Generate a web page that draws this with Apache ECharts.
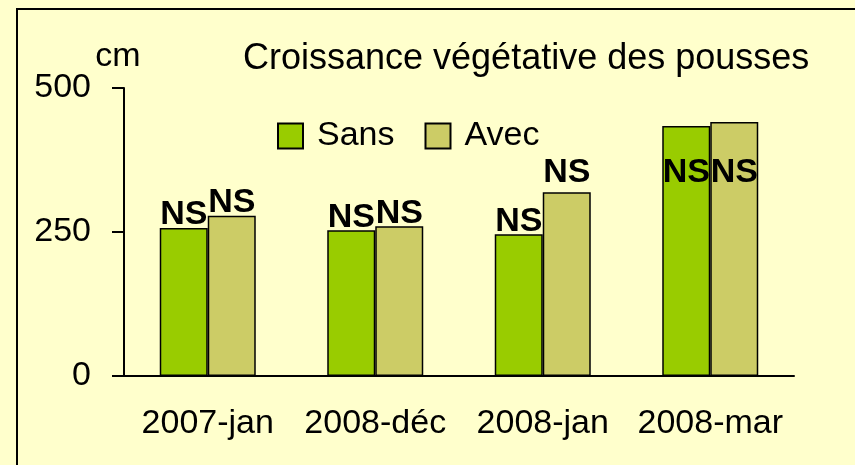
<!DOCTYPE html>
<html>
<head>
<meta charset="utf-8">
<script src="https://cdn.jsdelivr.net/npm/echarts@6/dist/echarts.min.js"></script>
<style>
  html, body { margin: 0; padding: 0; background: #FFFFCC; }
  #main { width: 855px; height: 465px; }
</style>
</head>
<body>
<div id="main"></div>
<script>
var categories = ['2007-jan', '2008-déc', '2008-jan', '2008-mar'];
var sansValues = [257, 253, 246, 434];
var avecValues = [278, 260, 319, 441];
var sansTags = ['NS', 'NS', 'NS', 'NS'];
var avecTags = ['NS', 'NS', 'NS', 'NS'];
var yTicks = [0, 250, 500];

var font = '"Liberation Sans", Arial, sans-serif';

var dom = document.getElementById('main');
var myChart = echarts.init(dom);

// la dernière catégorie a ses étiquettes dans la barre
function buildData(values, tags, inside) {
    return values.map(function (v, i) {
        var item = {value: v, label: {formatter: tags[i]}};
        if (i === values.length - 1) {
            item.label.position = 'insideTop';
            item.label.distance = inside;
        }
        return item;
    });
}

var sansData = buildData(sansValues, sansTags, 30);
var avecData = buildData(avecValues, avecTags, 34);
avecData[2].label.distance = 3;

var nsLabel = {
    show: true,
    position: 'top',
    distance: -4,
    color: '#000',
    fontFamily: font,
    fontWeight: 'bold',
    fontSize: 34,
    lineHeight: 34
};

var option = {
    backgroundColor: '#FFFFCC',
    animation: false,
    title: {
        text: 'Croissance végétative des pousses',
        left: 243,
        top: 41,
        padding: 0,
        textStyle: {
            fontFamily: font,
            fontWeight: 'normal',
            fontSize: 36,
            color: '#000'
        }
    },
    legend: {
        left: 277,
        top: 119,
        padding: 0,
        icon: 'rect',
        itemWidth: 25,
        itemHeight: 25,
        itemGap: 30,
        textStyle: {
            fontFamily: font,
            fontSize: 34,
            color: '#000',
            padding: [0, 0, 0, 9]
        },
        data: ['Sans', 'Avec']
    },
    graphic: [{
        type: 'rect',
        shape: {x: 17, y: 9, width: 900, height: 500},
        style: {fill: 'none', stroke: '#000', lineWidth: 2},
        silent: true
    }],
    grid: {left: 124, right: 61, top: 88, bottom: 89},
    xAxis: {
        type: 'category',
        data: categories,
        axisLine: {lineStyle: {color: '#000', width: 2}},
        axisTick: {length: 12, lineStyle: {color: '#000', width: 2}},
        axisLabel: {
            interval: 0,
            margin: 31,
            color: '#000',
            fontFamily: font,
            fontSize: 34
        }
    },
    yAxis: {
        type: 'value',
        min: yTicks[0],
        max: yTicks[yTicks.length - 1],
        interval: yTicks[1] - yTicks[0],
        name: 'cm',
        nameLocation: 'end',
        nameGap: 14,
        nameMoveOverlap: false,
        nameTextStyle: {
            fontFamily: font,
            fontSize: 34,
            color: '#000',
            align: 'center',
            padding: [0, 12, 0, 0]
        },
        splitLine: {show: false},
        axisLine: {show: true, lineStyle: {color: '#000', width: 2}},
        axisTick: {show: true, length: 12, lineStyle: {color: '#000', width: 2}},
        axisLabel: {
            margin: 33,
            color: '#000',
            fontFamily: font,
            fontSize: 34
        }
    },
    series: [
        {
            name: 'Sans',
            type: 'bar',
            barWidth: 48,
            barGap: '0%',
            itemStyle: {color: '#99CC00', borderColor: '#000', borderWidth: 1.5},
            label: nsLabel,
            data: sansData
        },
        {
            name: 'Avec',
            type: 'bar',
            barWidth: 48,
            barGap: '0%',
            itemStyle: {color: '#CCCC66', borderColor: '#000', borderWidth: 1.5},
            label: nsLabel,
            data: avecData
        }
    ]
};

if (option && typeof option === 'object') {
    myChart.setOption(option, true);
}
</script>
</body>
</html>
